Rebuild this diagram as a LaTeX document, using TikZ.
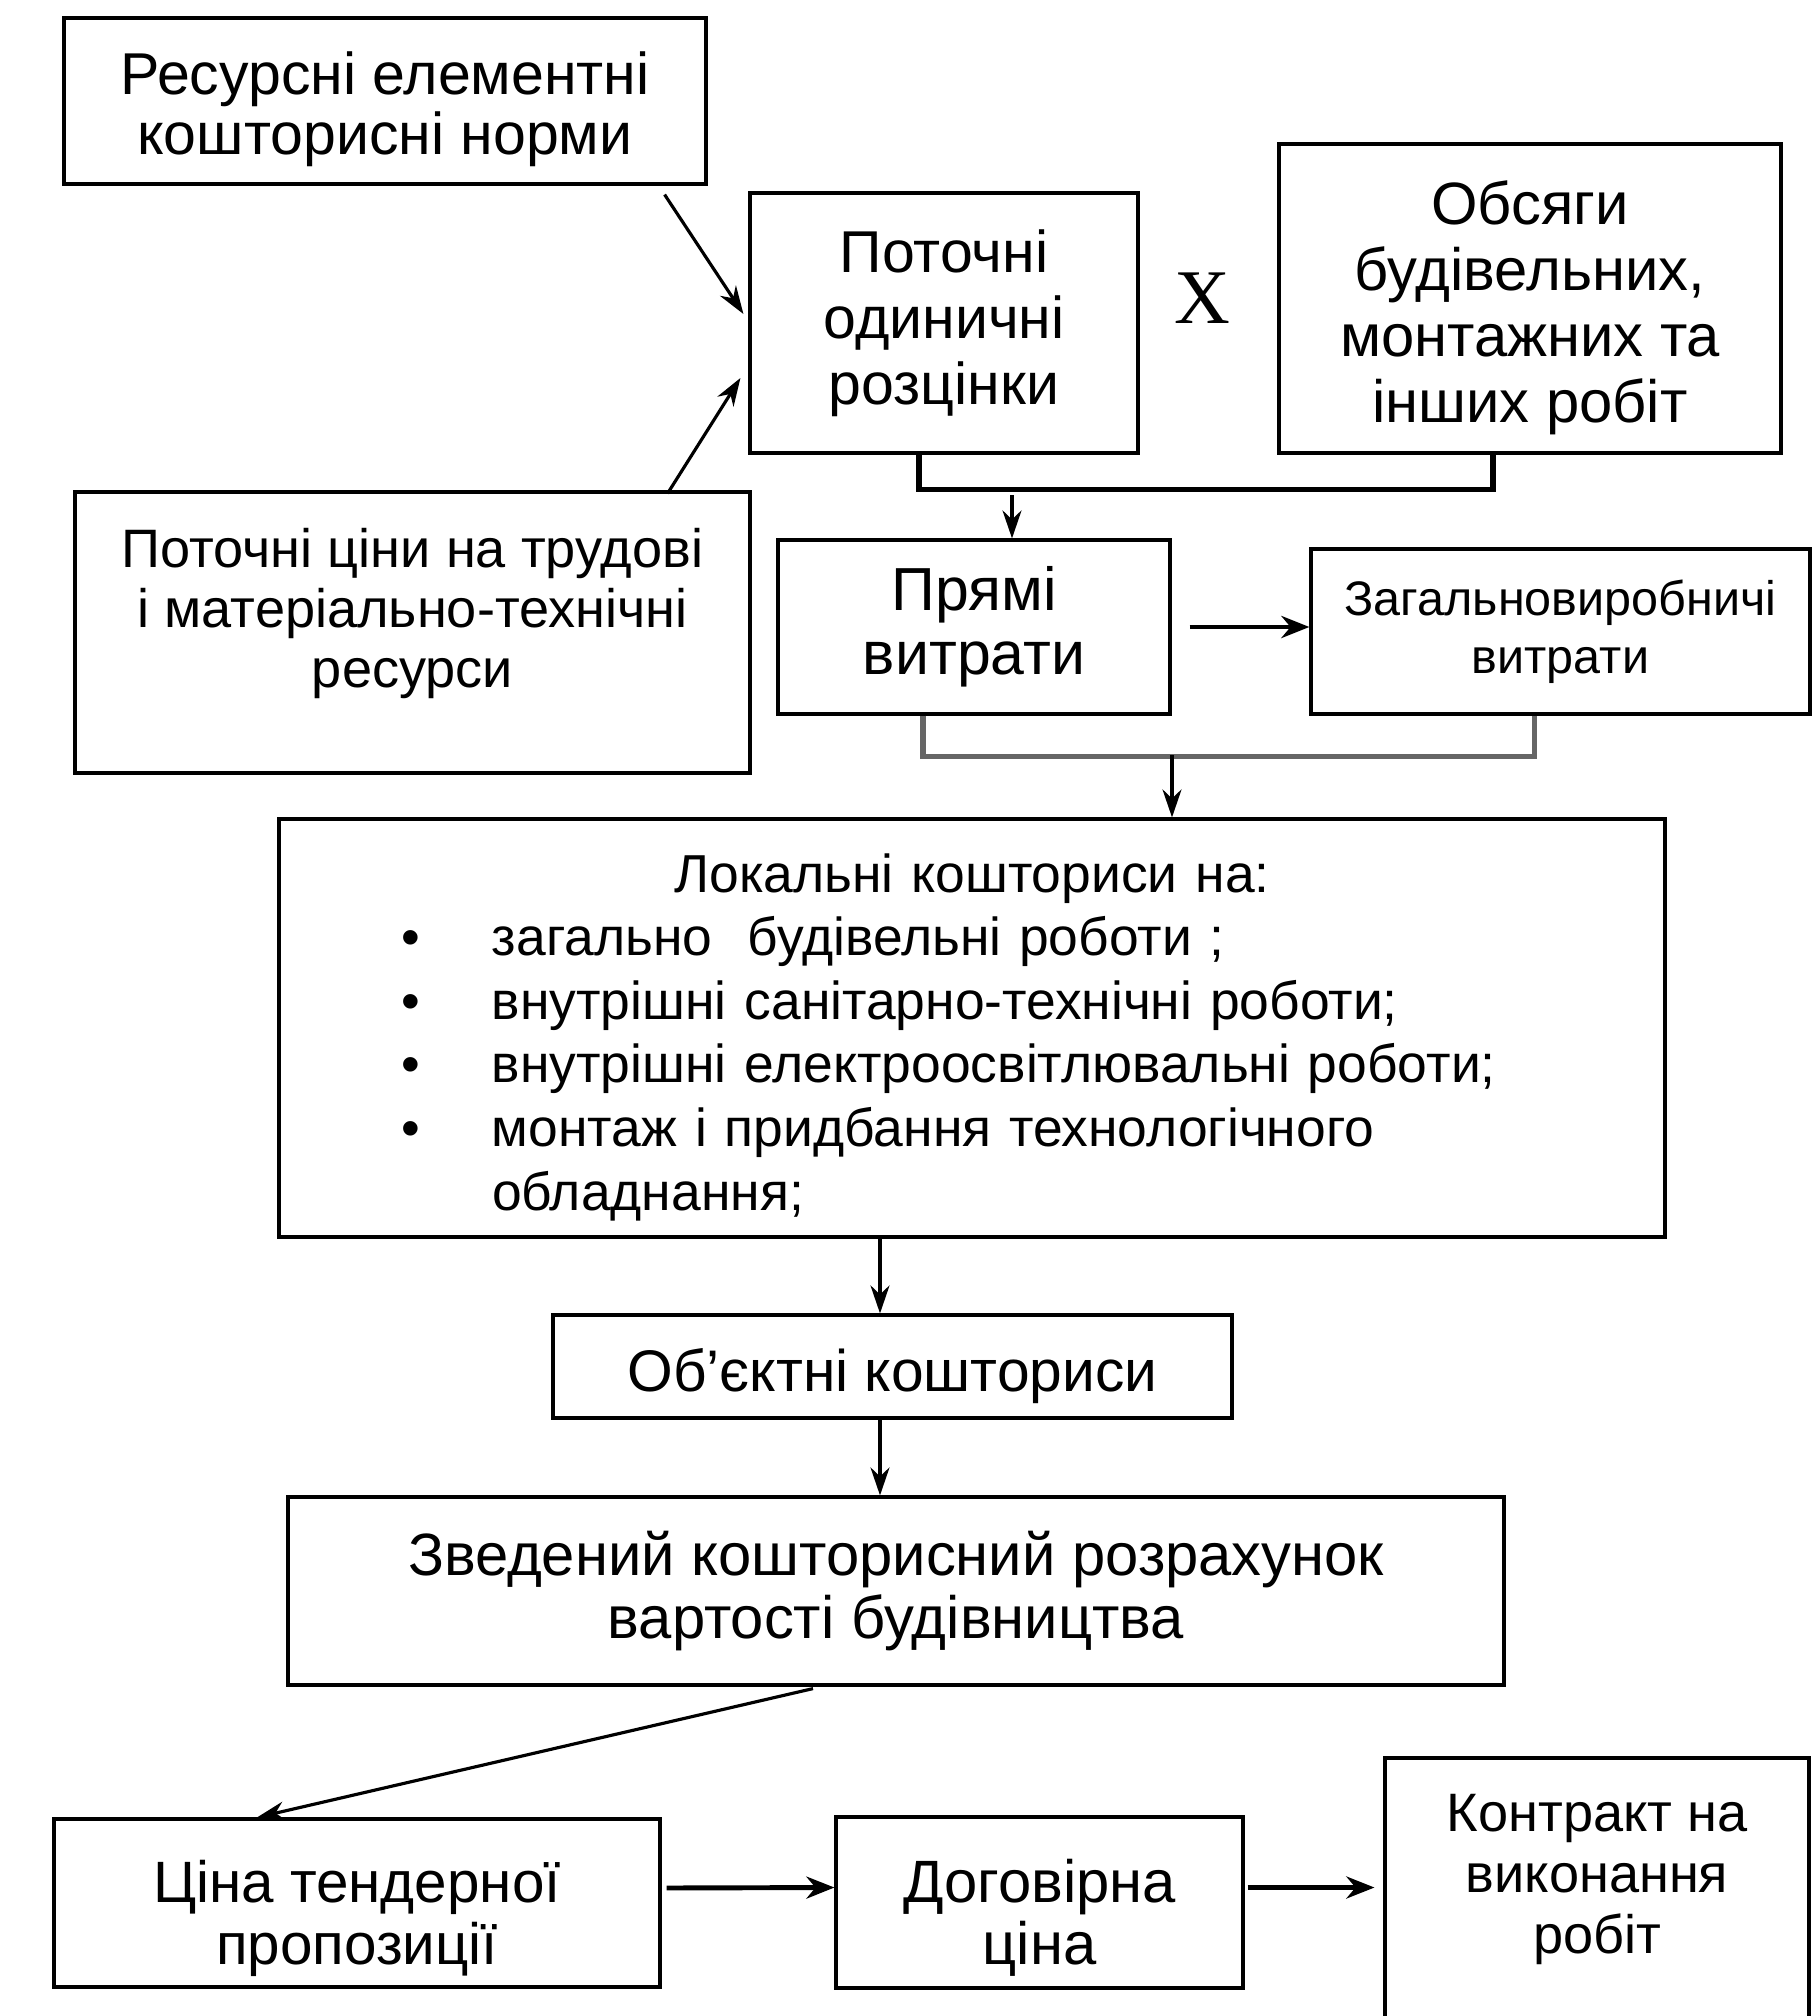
\documentclass[tikz,border=0pt]{standalone}
\usepackage{fontspec}
\setmainfont{Liberation Sans}
\newfontfamily\timesfont{Liberation Serif}
\usetikzlibrary{arrows.meta,calc}
\newcommand{\listbul}{\makebox[21.3mm][r]{\textbullet\hspace{7.2mm}}}
\newcommand{\topgap}[1]{\mbox{}\\[#1]}

\begin{document}
\begin{tikzpicture}[x=0.1mm,y=-0.1mm,
	box/.style={draw,line width=0.9pt,inner sep=0pt,align=center},
	arr/.style={-{Stealth[length=2.8mm,width=1.9mm]},line width=0.9pt},
	barr/.style={-{Stealth[length=2.8mm,width=2.2mm]},line width=1.4pt},
	brace/.style={line width=1.6pt}]
	\useasboundingbox (0,0) rectangle (1813,2016);
	\clip (0,0) rectangle (1813,2016);
	% draw boxes
	\node[box,minimum width=64.2mm,minimum height=16.6mm,font=\fontsize{16.8}{17}\selectfont] (norms) at (385,101) {\topgap{0pt}Ресурсні елементні\\кошторисні норми};
	\node[box,minimum width=38.8mm,minimum height=26mm,font=\fontsize{16.8}{18.8}\selectfont] (rates) at (944,323) {Поточні\\одиничні\\розцінки};
	\node[box,minimum width=50.2mm,minimum height=30.9mm,font=\fontsize{17}{18.8}\selectfont] (volumes) at (1530,298.5) {\topgap{-1pt}Обсяги\\будівельних,\\монтажних та\\інших робіт};
	\node[font=\timesfont\fontsize{22}{22}\selectfont] (times) at (1202,298) {X};
	\node[box,minimum width=67.5mm,minimum height=28.1mm,font=\fontsize{15.4}{17}\selectfont] (prices) at (412.5,632.5) {Поточні ціни на трудові\\і матеріально-технічні\\ресурси\\[-3pt]\mbox{}};
	\node[box,minimum width=39.2mm,minimum height=17.4mm,font=\fontsize{17.3}{18.2}\selectfont] (direct) at (974,627) {Прямі\\витрати};
	\node[box,minimum width=49.9mm,minimum height=16.5mm,font=\fontsize{13.8}{16.5}\selectfont] (overhead) at (1560.5,631.5) {Загальновиробничі\\витрати};
	\node[box,minimum height=41.8mm,text width=138.6mm,align=left,font=\fontsize{15.2}{18.1}\selectfont] (local) at (972,1028) {%
		\topgap{-1.9pt}\makebox[138.6mm]{Локальні кошториси на:}\\
		\listbul загально\ \ будівельні роботи ;\\
		\listbul внутрішні санітарно-технічні роботи;\\
		\listbul внутрішні електроосвітлювальні роботи;\\
		\listbul монтаж і придбання технологічного\\
		\hspace*{21.3mm}обладнання;};
	\node[box,minimum width=67.9mm,minimum height=10.3mm,text height=14pt,text depth=0pt,font=\fontsize{16.7}{18}\selectfont] (object) at (892.5,1366.5) {Об’єктні кошториси};
	\node[box,minimum width=121.6mm,minimum height=18.8mm,font=\fontsize{17}{18.2}\selectfont] (summary) at (896,1591) {Зведений кошторисний розрахунок\\вартості будівництва};
	\node[box,minimum width=60.6mm,minimum height=16.8mm,font=\fontsize{16.6}{17.6}\selectfont] (tender) at (357,1903) {\topgap{3.3pt}Ціна тендерної\\пропозиції};
	\node[box,minimum width=40.7mm,minimum height=17.1mm,font=\fontsize{17}{17.6}\selectfont] (contract) at (1039.5,1902.5) {\topgap{3.3pt}Договірна\\ціна};
	\node[box,minimum width=42.4mm,minimum height=28.2mm,font=\fontsize{15.4}{17.3}\selectfont] (agreement) at (1597,1899) {Контракт на\\виконання\\робіт\\[-3pt]\mbox{}};
	% draw arrows into rates
	\draw[arr] ($(norms.south east)+(-43,9)$) -- ($(rates.west)+(-5,-9)$);
	\draw[arr] ($(prices.north east)+(-84,3)$) -- ($(rates.west)+(-8,55)$);
	% draw joins
	\draw[brace] ($(rates.south)+(-25,0)$) -- ++(0,35) -| ($(volumes.south)+(-37,0)$);
	\coordinate (topjoin) at ($(direct.north)+(38,-43)$);
	\draw[arr] (topjoin) -- (topjoin |- direct.north);
	\draw[barr,shorten <=1.8mm] (direct.east) -- (direct.east -| overhead.west);
	\draw[brace,black!60] ($(direct.south)+(-51,0)$) -- ++(0,41) -| ($(overhead.south)+(-26,0)$);
	\coordinate (botjoin) at ($(local.north)+(200,-62)$);
	\draw[arr] (botjoin) -- (botjoin |- local.north);
	% draw chain
	\coordinate (col) at (880,0);
	\draw[arr] (local.south -| col) -- (object.north -| col);
	\draw[arr] (object.south -| col) -- (summary.north -| col);
	\draw[arr] ($(summary.south)+(-83,2)$) -- ($(tender.north)+(-100,0)$);
	\draw[barr,shorten <=0.5mm] ($(tender.east)+(0,-15)$) -- ($(contract.west)+(0,-15)$);
	\draw[barr,shorten <=0.3mm,shorten >=0.9mm] ($(contract.east)+(0,-15)$) -- ($(contract.east -| agreement.west)+(0,-15)$);
\end{tikzpicture}
\end{document}
